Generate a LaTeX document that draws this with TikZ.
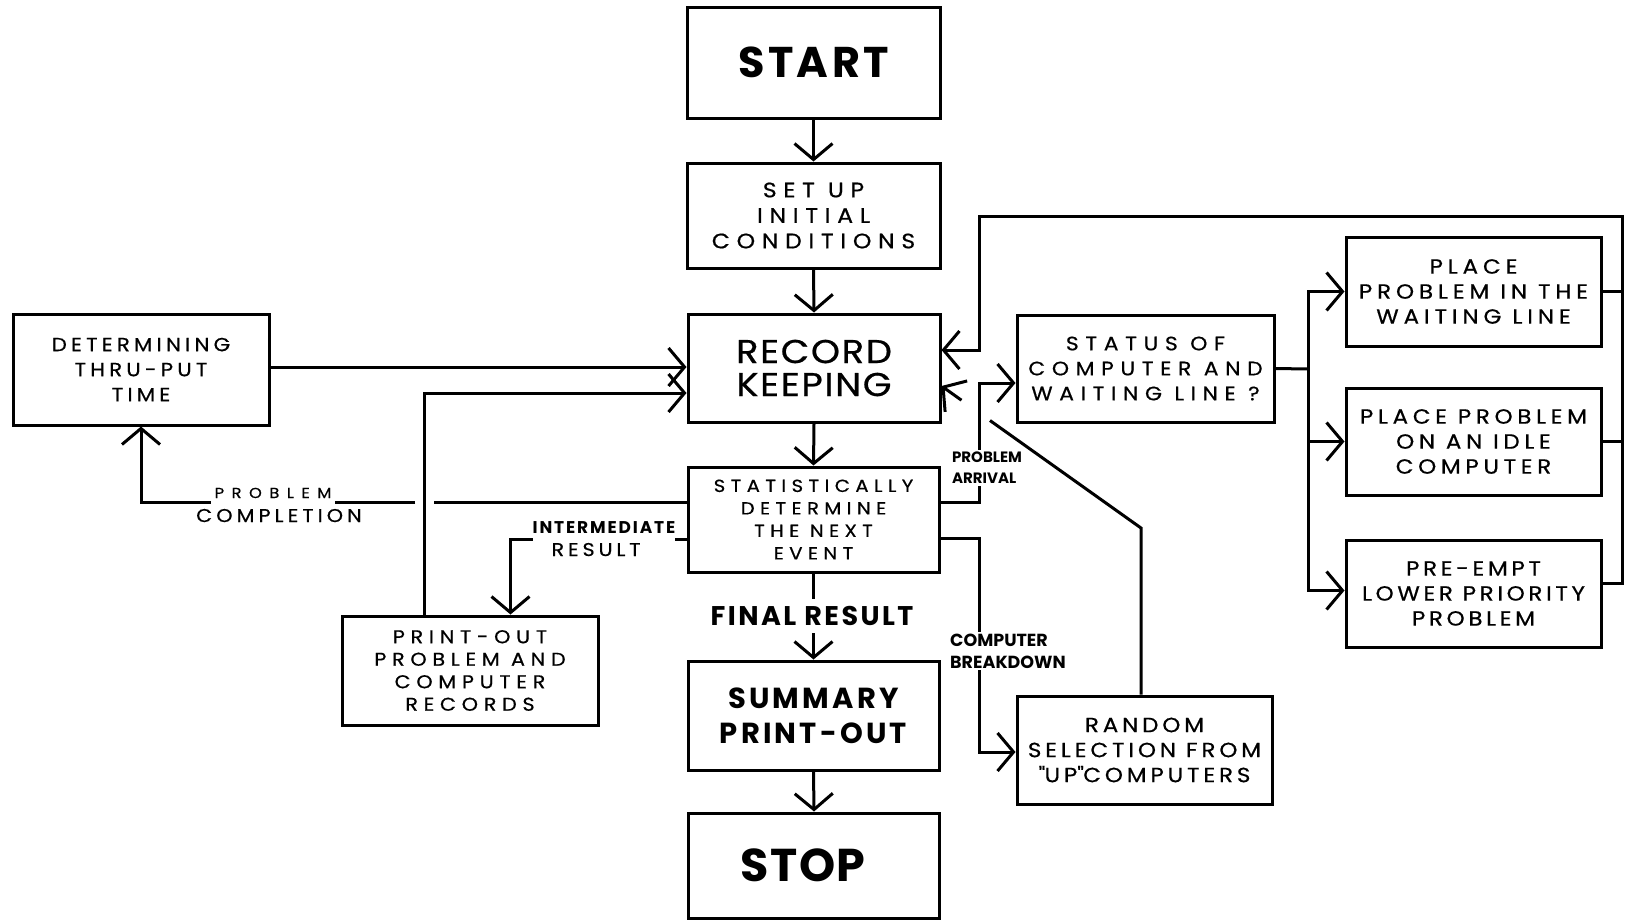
\documentclass[tikz,border=0pt]{standalone}
\usepackage{fontspec}
\setmainfont{Poppins}
\usetikzlibrary{arrows.meta,calc}

% font helpers: size/baselineskip, letter spacing
\newcommand\fsz[3]{\fontsize{#1}{#2}\selectfont\addfontfeatures{LetterSpace=#3,FakeStretch=1.12,FakeBold=0.6}}
\newcommand\fszb[3]{\fontsize{#1}{#2}\selectfont\bfseries\addfontfeatures{LetterSpace=#3}}

\tikzset{
  box/.style={draw, line width=3pt, align=center, inner sep=0pt},
  wire/.style={line width=3pt, line join=miter},
  arr/.style={wire, -{Straight Barb[length=16pt, width=38pt]}},
  lab/.style={inner sep=1pt},
  gaplab/.style={lab, fill=white}
}

\begin{document}
\begin{tikzpicture}[x=1pt,y=-1pt]
\useasboundingbox[fill=white] (0,0) rectangle (1627,919);

% ---- main column ----
\node[box, minimum width=253pt, minimum height=111pt, font=\fszb{43}{50}{8}] (start) at (813.5,62.5) {START};
\node[box, minimum width=253pt, minimum height=105pt, font=\fsz{21}{25.5}{32}] (setup) at (813.5,215.5) {SET UP\\INITIAL\\CONDITIONS};
\node[box, minimum width=252pt, minimum height=108pt, font=\fsz{33}{33}{5}] (record) at (814,368) {RECORD\\KEEPING};
\node[box, minimum width=251pt, minimum height=105pt, font=\fsz{17.5}{22.5}{31}] (stat) at (813.5,519.5) {STATISTICALLY\\DETERMINE\\THE NEXT\\EVENT};
\node[box, minimum width=251pt, minimum height=109pt, font=\fszb{29}{35}{11}] (summary) at (813.5,715.5) {SUMMARY\\PRINT-OUT};
\node[box, minimum width=251pt, minimum height=105pt, font=\fszb{46}{50}{3}] (stop) at (814,865.5) {\hspace*{-22pt}STOP};

% ---- left side ----
\node[box, minimum width=256pt, minimum height=111pt, font=\fsz{19}{25}{22}] (determ) at (141,369.5) {DETERMINING\\THRU-PUT\\TIME};
\node[box, minimum width=256pt, minimum height=109pt, font=\fsz{18.5}{22.5}{31}] (printout) at (470,670.5) {PRINT-OUT\\PROBLEM AND\\COMPUTER\\RECORDS};

% ---- right side ----
\node[box, minimum width=257pt, minimum height=107pt, font=\fsz{19.5}{25}{34}] (status) at (1145.5,368.5) {STATUS OF\\COMPUTER AND\\WAITING LINE ?};
\node[box, minimum width=255pt, minimum height=109pt, font=\fsz{20.5}{25}{24}] (place1) at (1473.5,291.5) {PLACE\\PROBLEM IN THE\\WAITING LINE};
\node[box, minimum width=255pt, minimum height=107pt, font=\fsz{20.5}{25}{23}] (place2) at (1473.5,441.5) {PLACE PROBLEM\\ON AN IDLE\\COMPUTER};
\node[box, minimum width=255pt, minimum height=107pt, font=\fsz{20.5}{25}{18}] (preempt) at (1473.5,593.5) {PRE-EMPT\\LOWER PRIORITY\\PROBLEM};
\node[box, minimum width=255pt, minimum height=108pt, font=\fsz{20.5}{25}{19}] (random) at (1144.5,750) {RANDOM\\SELECTION FROM\\\textquotedbl UP\textquotedbl COMPUTERS};

% ---- connection points ----
\coordinate (rkL1) at ([yshift=1pt]record.west);
\coordinate (rkL2) at ([yshift=-25pt]record.west);
\coordinate (rkR1) at ([yshift=18pt]record.east);
\coordinate (rkR2) at ([yshift=-18pt]record.east);
\coordinate (stW1) at ([yshift=17.5pt]stat.west);
\coordinate (stW2) at ([yshift=-19.5pt]stat.west);
\coordinate (stE1) at ([yshift=17.5pt]stat.east);
\coordinate (stE2) at ([yshift=-18.5pt]stat.east);
\coordinate (stIn) at ([yshift=-14.5pt]status.west);
\coordinate (rdIn) at ([yshift=-2pt]random.west);
\coordinate (peE) at ([yshift=10.5pt]preempt.east);
\coordinate (poT) at ([xshift=84pt]printout.north west);
\coordinate (poI) at ([xshift=170pt]printout.north west);
\coordinate (pcC) at (determ.south |- stW1);
\coordinate (loopTR) at (1622,216);
\coordinate (loopTL) at (979,216);
\coordinate (fork) at (1308,369);
\coordinate (dg) at (1141,528);

% ---- main flow ----
\draw[arr] (start.south) -- (setup.north);
\draw[arr] (setup.south) -- (record.north);
\draw[arr] (record.south) -- (stat.north);
\draw[arr] (stat.south) -- (summary.north);
\draw[arr] (summary.south) -- (stop.north);

% ---- left loops ----
\draw[arr] (determ.east |- rkL1) -- (rkL1);
\draw[wire] (stW1) -- ($(poT |- stW1)+(9.5,0)$);
\draw[arr] ($(poT |- stW1)+(-9.5,0)$) -- (pcC) -- (determ.south);
\draw[arr] (poT) |- (rkL2);
\draw[arr] (stW2) -| (poI);

% ---- right side flow ----
\draw[arr] (stE1) -- (stE1 -| loopTL) |- (stIn);
\draw[arr] (stE2) -- (stE2 -| loopTL) |- (rdIn);
\draw[wire] (status.east) -- (fork);
\draw[arr] (fork) |- (place1.west);
\draw[arr] (fork) |- (place2.west);
\draw[arr] (fork) |- ([yshift=3pt]preempt.west);
\draw[wire] (place1.east) -- (place1.east -| loopTR);
\draw[wire] (place2.east) -- (place2.east -| loopTR);
\draw[arr] (peE) -| (loopTR) -- (loopTL) |- (rkR1);
\draw[wire] ([xshift=-3.5pt]random.north) -- (dg) -- ($(dg)!0.757!(rkR2)$);
\draw[arr] ($(dg)!0.9!(rkR2)$) -- (rkR2);

% ---- connector labels ----
\node[gaplab, anchor=base, text depth=6pt, inner xsep=4pt, inner ysep=0pt, font=\fsz{14.5}{14.5}{52}] (lprob) at (273,498) {PROBLEM};
\node[lab, anchor=base, font=\fsz{18.5}{18.5}{22}] (lcompl) at (279,522) {COMPLETION};
\node[gaplab, anchor=base, text depth=8pt, inner xsep=0pt, inner ysep=0pt, font=\fszb{17}{17}{11}] (linter) at (604,533) {INTERMEDIATE};
\node[lab, anchor=base, font=\fsz{18.5}{18.5}{21}] (lres) at (596,556) {RESULT};
\node[gaplab, inner ysep=7pt, font=\fszb{27}{27}{9}] (lfinal) at (812,616) {FINAL RESULT};
\node[gaplab, align=left, inner sep=2pt, font=\fszb{15}{21}{0}] (larr) at (987,468) {PROBLEM\\ARRIVAL};
\node[gaplab, align=left, anchor=west, inner sep=2pt, font=\fszb{17.5}{22}{0}] (lbrk) at (948,651) {COMPUTER\\BREAKDOWN};
\end{tikzpicture}
\end{document}
